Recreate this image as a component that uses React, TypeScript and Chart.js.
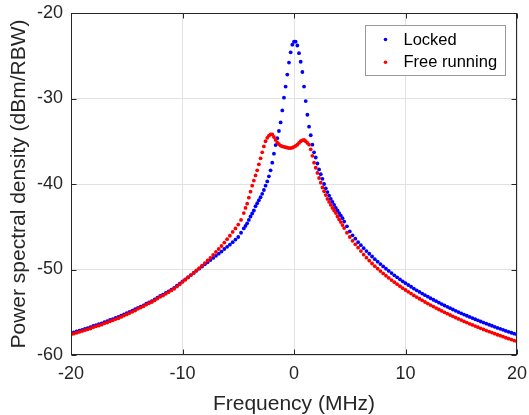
import React, { useEffect, useRef } from 'react';
import { Chart, registerables } from 'chart.js';

Chart.register(...registerables);

// Frequency grid (MHz)
const freqLeftMHz = [
  -20, -19.75, -19.5, -19.25, -19, -18.75, -18.5, -18.25, -18, -17.75,
  -17.5, -17.25, -17, -16.75, -16.5, -16.25, -16, -15.75, -15.5, -15.25,
  -15, -14.75, -14.5, -14.25, -14, -13.75, -13.5, -13.25, -13, -12.75,
  -12.5, -12.25, -12, -11.75, -11.5, -11.25, -11, -10.75, -10.5, -10.25,
  -10, -9.75, -9.5, -9.25, -9, -8.75, -8.5, -8.25, -8, -7.75,
  -7.5, -7.25, -7, -6.75, -6.5, -6.25, -6, -5.75, -5.5, -5.25,
  -5, -4.75,
];
const freqCenterMHz = [
  -4.5, -4.35, -4.2, -4.05, -3.9, -3.75, -3.6, -3.45, -3.3, -3.15,
  -3.0, -2.85, -2.7, -2.55, -2.4, -2.25, -2.1, -1.95, -1.8, -1.65,
  -1.5, -1.35, -1.2, -1.05, -0.9, -0.75, -0.6, -0.45, -0.3, -0.15,
  0,
  0.15, 0.3, 0.45, 0.6, 0.75, 0.9, 1.05, 1.2, 1.35, 1.5,
  1.65, 1.8, 1.95, 2.1, 2.25, 2.4, 2.55, 2.7, 2.85, 3.0,
  3.15, 3.3, 3.45, 3.6, 3.75, 3.9, 4.05, 4.2, 4.35, 4.5,
];
const freqRightMHz = [
  4.75, 5, 5.25, 5.5, 5.75, 6, 6.25, 6.5, 6.75, 7,
  7.25, 7.5, 7.75, 8, 8.25, 8.5, 8.75, 9, 9.25, 9.5,
  9.75, 10, 10.25, 10.5, 10.75, 11, 11.25, 11.5, 11.75, 12,
  12.25, 12.5, 12.75, 13, 13.25, 13.5, 13.75, 14, 14.25, 14.5,
  14.75, 15, 15.25, 15.5, 15.75, 16, 16.25, 16.5, 16.75, 17,
  17.25, 17.5, 17.75, 18, 18.25, 18.5, 18.75, 19, 19.25, 19.5,
  19.75, 20,
];

// Locked (dBm/RBW)
const lockedLeft = [
  -57.45, -57.35, -57.25, -57.15, -57.05, -56.95, -56.85, -56.75, -56.6, -56.5,
  -56.4, -56.3, -56.15, -56.05, -55.9, -55.8, -55.65, -55.55, -55.4, -55.25,
  -55.1, -54.95, -54.8, -54.65, -54.5, -54.35, -54.2, -54.0, -53.85, -53.7,
  -53.5, -53.3, -53.1, -52.95, -52.75, -52.55, -52.35, -52.15, -51.9, -51.65,
  -51.4, -51.15, -50.9, -50.65, -50.4, -50.15, -49.9, -49.65, -49.4, -49.15,
  -48.9, -48.65, -48.4, -48.15, -47.9, -47.6, -47.35, -47.1, -46.8, -46.5,
  -46.2, -45.7,
];
const lockedCenter = [
  -45.2, -44.9, -44.6, -44.2, -43.8, -43.45, -43.1, -42.6, -42.25, -41.9,
  -41.55, -41.15, -40.7, -40.2, -39.7, -39.1, -38.4, -37.5, -36.45, -35.45,
  -34.65, -33.8, -32.8, -31.4, -29.9, -28.6, -27.2, -25.8, -24.6, -23.7,
  -23.35,
  -23.35, -23.8, -24.7, -25.7, -26.9, -28.6, -30.3, -31.9, -33.3, -34.3,
  -35.4, -36.3, -36.9, -37.6, -38.3, -38.85, -39.4, -40.0, -40.5, -40.95,
  -41.35, -41.75, -42.1, -42.45, -42.8, -43.1, -43.4, -43.7, -44.0, -44.4,
];
const lockedRight = [
  -44.95, -45.55, -46.0, -46.4, -46.8, -47.15, -47.5, -47.84, -48.16, -48.48,
  -48.79, -49.08, -49.37, -49.64, -49.91, -50.17, -50.42, -50.68, -50.92, -51.15,
  -51.38, -51.6, -51.81, -52.02, -52.23, -52.43, -52.62, -52.81, -53.0, -53.18,
  -53.36, -53.54, -53.71, -53.88, -54.04, -54.21, -54.37, -54.52, -54.68, -54.83,
  -54.98, -55.12, -55.27, -55.41, -55.55, -55.68, -55.82, -55.95, -56.08, -56.21,
  -56.34, -56.46, -56.58, -56.71, -56.83, -56.94, -57.06, -57.18, -57.29, -57.4,
  -57.51, -57.62,
];

// Free running (dBm/RBW)
const freeLeft = [
  -57.6, -57.5, -57.4, -57.3, -57.2, -57.1, -57.0, -56.9, -56.75, -56.65,
  -56.55, -56.45, -56.3, -56.2, -56.05, -55.95, -55.8, -55.7, -55.55, -55.4,
  -55.25, -55.1, -54.95, -54.8, -54.6, -54.45, -54.3, -54.1, -53.95, -53.8,
  -53.6, -53.4, -53.2, -53.05, -52.85, -52.65, -52.45, -52.25, -52.0, -51.75,
  -51.45, -51.2, -50.95, -50.65, -50.4, -50.1, -49.85, -49.55, -49.25, -48.95,
  -48.65, -48.3, -47.95, -47.6, -47.25, -46.85, -46.45, -46.05, -45.6, -45.2,
  -44.75, -44.2,
];
const freeCenter = [
  -43.4, -42.8, -42.3, -41.6, -40.9, -40.2, -39.6, -39.0, -38.4, -37.7,
  -37.0, -36.3, -35.6, -35.0, -34.6, -34.35, -34.2, -34.2, -34.5, -34.85,
  -35.15, -35.35, -35.5, -35.6, -35.65, -35.7, -35.75, -35.8, -35.8, -35.75,
  -35.65,
  -35.55, -35.4, -35.2, -35.0, -34.9, -34.85, -35.0, -35.2, -35.4, -35.95,
  -36.7, -37.5, -38.1, -38.7, -39.3, -39.85, -40.4, -40.85, -41.3, -41.75,
  -42.1, -42.45, -42.8, -43.1, -43.4, -43.8, -44.15, -44.45, -44.8, -45.15,
];
const freeRight = [
  -45.7, -46.2, -46.65, -47.05, -47.45, -47.85, -48.25, -48.62, -48.97, -49.3,
  -49.61, -49.9, -50.19, -50.46, -50.73, -50.99, -51.24, -51.48, -51.72, -51.95,
  -52.18, -52.4, -52.61, -52.82, -53.03, -53.23, -53.42, -53.61, -53.8, -53.98,
  -54.16, -54.34, -54.51, -54.68, -54.84, -55.01, -55.17, -55.32, -55.48, -55.63,
  -55.78, -55.92, -56.07, -56.21, -56.35, -56.48, -56.62, -56.75, -56.88, -57.01,
  -57.14, -57.26, -57.38, -57.51, -57.63, -57.74, -57.86, -57.98, -58.09, -58.2,
  -58.31, -58.42,
];

const xTicks = [-20, -10, 0, 10, 20];
const yTicks = [-60, -50, -40, -30, -20];
const seriesNames = ['Locked', 'Free running'];
const seriesColors = ['#0000ff', '#ff0000'];

const FONT = "'Liberation Sans', Arial, Helvetica, sans-serif";
const INK = '#262626';

function toPoints(xs: number[], ys: number[]) {
  return xs.map((x, i) => ({ x, y: ys[i] }));
}

const frameLegendPlugin = {
  id: 'frameLegend',
  afterDatasetsDraw(chart: any) {
    const { ctx, chartArea: a, scales } = chart;
    ctx.save();
    const L = Math.round(a.left) + 0.5;
    const R = Math.round(a.right) - 0.5;
    const T = Math.round(a.top) + 0.5;
    const B = Math.round(a.bottom) - 0.5;
    ctx.strokeStyle = INK;
    ctx.lineWidth = 1;
    ctx.strokeRect(L, T, R - L, B - T);
    ctx.beginPath();
    for (const v of xTicks) {
      const px = Math.round(scales.x.getPixelForValue(v)) + 0.5;
      ctx.moveTo(px, B); ctx.lineTo(px, B - 5);
      ctx.moveTo(px, T); ctx.lineTo(px, T + 5);
    }
    for (const v of yTicks) {
      const py = Math.round(scales.y.getPixelForValue(v)) + 0.5;
      ctx.moveTo(L, py); ctx.lineTo(L + 5, py);
      ctx.moveTo(R, py); ctx.lineTo(R - 5, py);
    }
    ctx.stroke();

    // legend box
    const bw = 140, bh = 50;
    const bx = Math.round(a.right) - 152 + 0.5;
    const by = Math.round(a.top) + 12 + 0.5;
    ctx.fillStyle = '#ffffff';
    ctx.fillRect(bx, by, bw, bh);
    ctx.strokeStyle = '#9a9a9a';
    ctx.strokeRect(bx, by, bw, bh);
    ctx.font = `16.5px ${FONT}`;
    ctx.textBaseline = 'middle';
    ctx.textAlign = 'left';
    seriesNames.forEach((name, i) => {
      const cy = by + 14 + i * 22.7;
      ctx.fillStyle = seriesColors[i];
      ctx.beginPath();
      ctx.arc(bx + 20, cy, 1.8, 0, Math.PI * 2);
      ctx.fill();
      ctx.fillStyle = '#000000';
      ctx.fillText(name, bx + 38, cy + 0.5);
    });
    ctx.restore();
  },
};

export default function App() {
  const ref = useRef<HTMLCanvasElement | null>(null);

  useEffect(() => {
    document.body.style.margin = '0';
    const canvas = ref.current;
    if (!canvas) return;
    const chart = new Chart(canvas, {
      type: 'scatter',
      data: {
        datasets: [
          {
            label: seriesNames[0],
            data: [
              ...toPoints(freqLeftMHz, lockedLeft),
              ...toPoints(freqCenterMHz, lockedCenter),
              ...toPoints(freqRightMHz, lockedRight),
            ],
            backgroundColor: seriesColors[0],
            borderWidth: 0,
            pointRadius: 1.9,
            order: 1,
          },
          {
            label: seriesNames[1],
            data: [
              ...toPoints(freqLeftMHz, freeLeft),
              ...toPoints(freqCenterMHz, freeCenter),
              ...toPoints(freqRightMHz, freeRight),
            ],
            backgroundColor: seriesColors[1],
            borderWidth: 0,
            pointRadius: 1.9,
            order: 0,
          },
        ],
      },
      options: {
        responsive: false,
        animation: false,
        devicePixelRatio: 1,
        events: [],
        layout: { padding: { top: 13, right: 12, left: 0, bottom: 0 } },
        plugins: {
          legend: { display: false },
          tooltip: { enabled: false },
        },
        scales: {
          x: {
            type: 'linear',
            min: -20,
            max: 20,
            afterBuildTicks: (s: any) => { s.ticks = xTicks.map((v) => ({ value: v })); },
            afterFit: (s: any) => {
              s.height = 60;
              s.paddingLeft = 0;
              s.paddingRight = 0;
            },
            ticks: {
              color: INK,
              font: { family: FONT, size: 18 },
              padding: 8,
              maxRotation: 0,
              autoSkip: false,
            },
            grid: { color: '#e1e1e1', drawTicks: false, lineWidth: 1 },
            border: { display: false },
            title: {
              display: true,
              text: 'Frequency (MHz)',
              color: INK,
              font: { family: FONT, size: 21, lineHeight: 1 },
              padding: { top: 0, bottom: 0 },
            },
          },
          y: {
            type: 'linear',
            min: -60,
            max: -20,
            afterBuildTicks: (s: any) => { s.ticks = yTicks.map((v) => ({ value: v })); },
            afterFit: (s: any) => {
              s.width = 71;
              s.paddingTop = 0;
              s.paddingBottom = 0;
            },
            ticks: {
              color: INK,
              font: { family: FONT, size: 18 },
              padding: 8,
              autoSkip: false,
            },
            grid: { color: '#e1e1e1', drawTicks: false, lineWidth: 1 },
            border: { display: false },
            title: {
              display: true,
              text: 'Power spectral density (dBm/RBW)',
              color: INK,
              font: { family: FONT, size: 21, lineHeight: 1 },
              padding: { top: 9, bottom: 0 },
            },
          },
        },
      },
      plugins: [frameLegendPlugin],
    });
    return () => chart.destroy();
  }, []);

  return (
    <div style={{ width: 529, height: 415 }}>
      <canvas ref={ref} width={529} height={415} style={{ display: 'block' }} />
    </div>
  );
}
